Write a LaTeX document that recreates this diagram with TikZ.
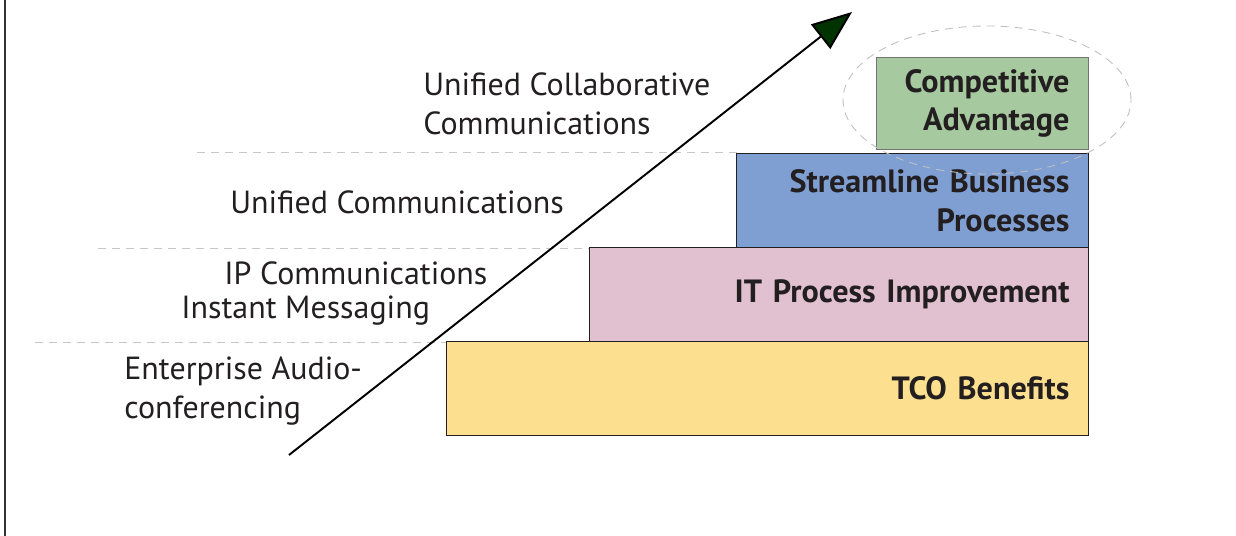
\documentclass[tikz,border=0pt]{standalone}
\usepackage{fontspec}
\setmainfont{PT Sans}
\usetikzlibrary{arrows.meta}
\definecolor{tcoyellow}{RGB}{253,224,143}
\definecolor{itpink}{RGB}{225,193,208}
\definecolor{sbpblue}{RGB}{127,159,211}
\definecolor{cagreen}{RGB}{167,201,160}
\definecolor{headgreen}{RGB}{0,51,0}
\definecolor{inkgray}{RGB}{35,31,32}
\begin{document}
\begin{tikzpicture}[
    tier/.style={draw=inkgray, line width=0.6pt, anchor=south east, inner xsep=0.38cm,
        align=right, minimum height=1.88cm, text=inkgray,
        font=\bfseries\fontsize{18.3}{22}\selectfont},
    lvl/.style={anchor=west, align=left, inner sep=0pt, text=inkgray,
        font=\fontsize{18.2}{22}\selectfont},
    sep/.style={draw=black!22, line width=0.5pt, dash pattern=on 0.16cm off 0.12cm}
]
\useasboundingbox (0, 0) rectangle (24.72, 10.72);
\draw[line width=1.6pt, draw=black!80] (0.1, 0) -- (0.1, 10.72);
% level separators
\draw[sep] (0.7, 3.88) -- (8.94, 3.88);
\draw[sep] (1.96, 5.76) -- (11.8, 5.76);
\draw[sep] (3.94, 7.68) -- (14.74, 7.68);
% benefit tiers
\node[tier, fill=tcoyellow, text width=12.08cm] (tco) at (21.78, 2.0) {TCO Benefits};
\node[tier, fill=itpink, text width=9.22cm] (itp) at (21.78, 3.88) {IT Process Improvement};
\node[tier, fill=sbpblue, text width=6.28cm] (sbp) at (21.78, 5.76) {Streamline Business\\Processes};
\node[tier, fill=cagreen, draw=black!55, text width=3.48cm, minimum height=1.84cm] (cadv) at (21.78, 7.72) {Competitive\\Advantage};
\draw[sep, draw=black!25] (19.74, 8.72) ellipse (2.88 and 1.48);
% communication levels
\node[lvl] (lea) at (2.48, 2.9) {Enterprise Audio-\\conferencing};
\node[lvl] (lip) at (4.48, 5.26) {IP Communications};
\node[lvl] (lim) at (3.62, 4.5) {Instant Messaging};
\node[lvl] (luc) at (4.6, 6.68) {Unified Communications};
\node[lvl] (lucc) at (8.46, 8.64) {Unified Collaborative\\Communications};
% growth arrow
\coordinate (start) at (5.78, 1.62);
\coordinate (tip) at (17.04, 10.48);
\draw[line width=1.1pt, -{Triangle[length=0.8cm, width=0.62cm, fill=headgreen]}] (start) -- (tip);
\end{tikzpicture}
\end{document}
